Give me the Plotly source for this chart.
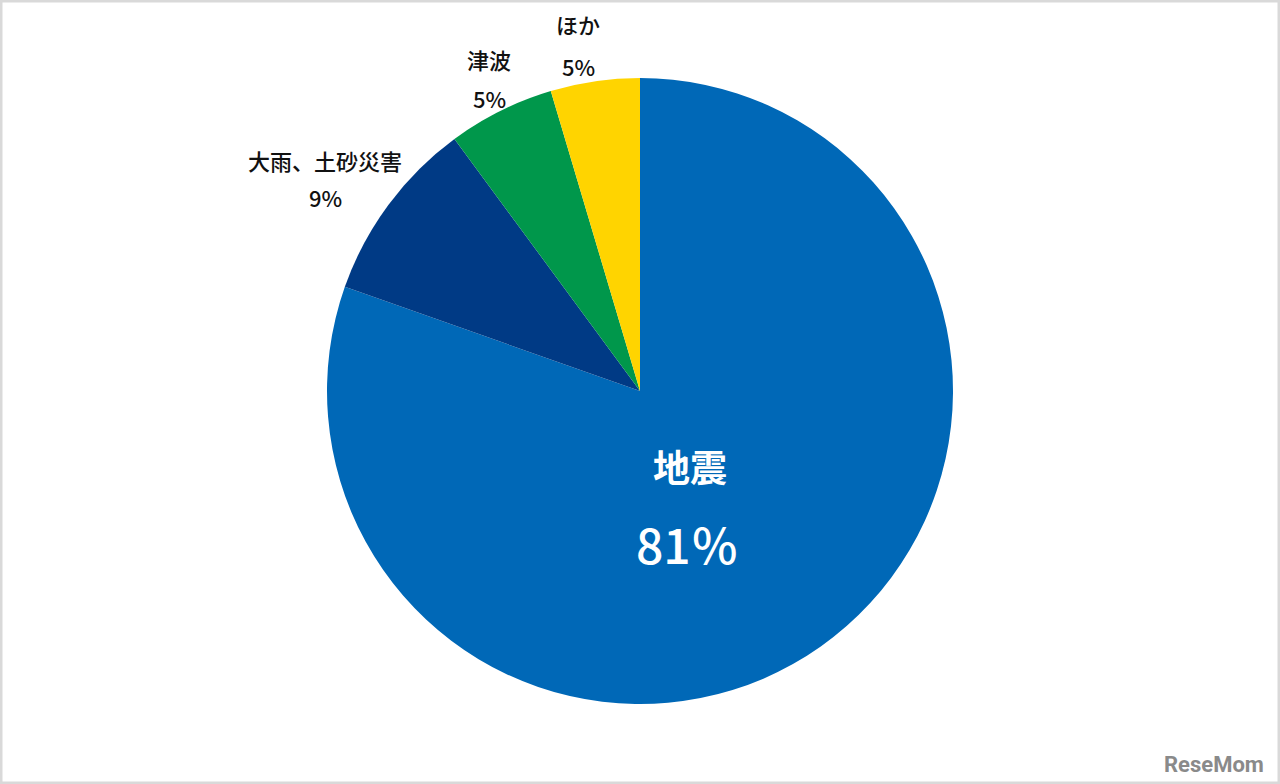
import plotly.graph_objects as go

categories = ["地震", "大雨、土砂災害", "津波", "ほか"]
values = [80.4, 9.5, 5.5, 4.6]
pct_labels = ["81％", "9%", "5%", "5%"]
colors = ["#0068b7", "#003a85", "#00974b", "#ffd400"]

W, H = 1280, 784
cx, cy, r = 640, 391, 313

fig = go.Figure(go.Pie(
    labels=categories, values=values, sort=False, direction="clockwise",
    rotation=0, marker=dict(colors=colors, line=dict(width=0)),
    textinfo="none", hoverinfo="label+percent", showlegend=False,
    domain=dict(x=[(cx - r) / W, (cx + r) / W], y=[1 - (cy + r) / H, 1 - (cy - r) / H]),
))

font = "Noto Sans CJK JP"
ann = []
# main slice label
ann.append(dict(x=690 / W, y=1 - 466 / H, text=categories[0],
                font=dict(family=font, size=37, color="white", weight=700)))
ann.append(dict(x=687 / W, y=1 - 543 / H, text=pct_labels[0],
                font=dict(family=font, size=48, color="white", weight=500)))
# outside labels
pos = {1: (325, 160, 197), 2: (489, 59, 98), 3: (578, 24, 66)}
for i, (x, y1, y2) in pos.items():
    ann.append(dict(x=x / W, y=1 - y1 / H, text=categories[i],
                    font=dict(family=font, size=22, color="#111", weight=500)))
    ann.append(dict(x=x / W, y=1 - y2 / H, text=pct_labels[i],
                    font=dict(family=font, size=22, color="#111", weight=500)))
ann.append(dict(x=1214 / W, y=1 - 764 / H, text="ReseMom",
                font=dict(family="Roboto", size=22, color="#8a8a8a", weight=700)))
for a in ann:
    a.update(xref="paper", yref="paper", showarrow=False, xanchor="center", yanchor="middle")

fig.update_layout(
    width=W, height=H, margin=dict(l=0, r=0, t=0, b=0),
    paper_bgcolor="white", plot_bgcolor="white",
    annotations=ann,
    shapes=[dict(type="rect", xref="paper", yref="paper", x0=0, y0=0, x1=1, y1=1,
                 line=dict(color="#d9d9d9", width=5), fillcolor="rgba(0,0,0,0)")],
)
fig.write_html("out.html", config={"displayModeBar": False},
               post_script="document.body.style.margin='0';document.body.style.overflow='hidden';")
